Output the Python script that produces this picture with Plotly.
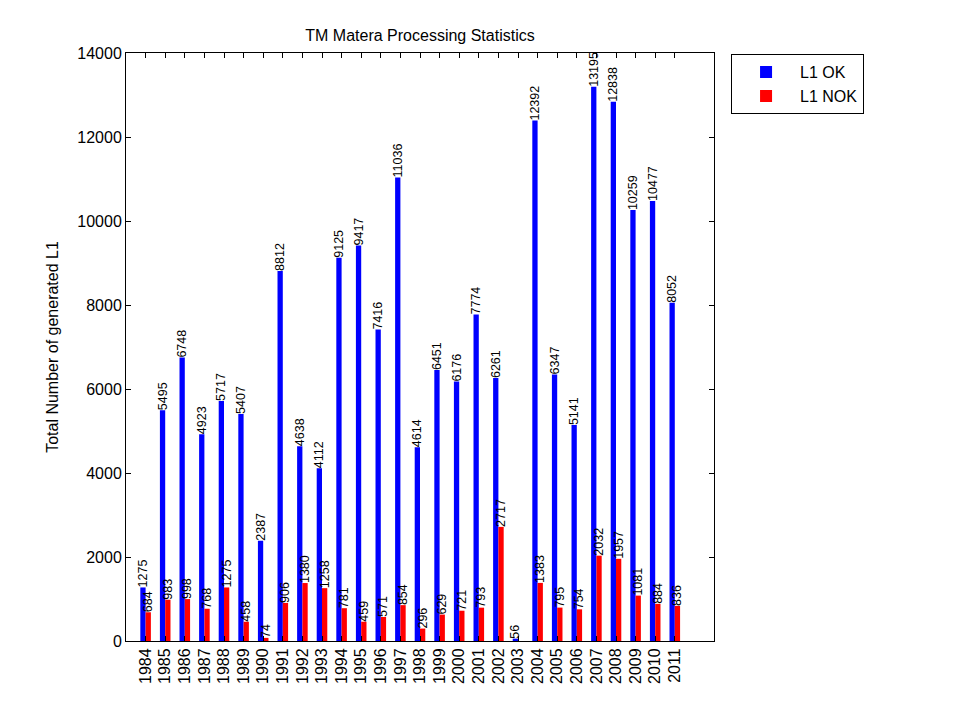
import plotly.graph_objects as go

years = list(range(1984, 2012))
l1_ok = [1275, 5495, 6748, 4923, 5717, 5407, 2387, 8812, 4638, 4112, 9125, 9417, 7416, 11036,
         4614, 6451, 6176, 7774, 6261, 56, 12392, 6347, 5141, 13195, 12838, 10259, 10477, 8052]
l1_nok = [684, 983, 998, 768, 1275, 458, 74, 906, 1380, 1258, 781, 459, 571, 854,
          296, 629, 721, 793, 2717, 0, 1383, 795, 754, 2032, 1957, 1081, 884, 836]

font_family = "Liberation Sans, Arial, Helvetica, sans-serif"

def labels(vals):
    return [str(v) if v else "" for v in vals]

# page body has an 8px default margin; compensate in the figure margins
L, T, PW, PH = 118, 45, 588, 588
W, H = 961, 720

fig = go.Figure()
fig.add_trace(go.Bar(x=years, y=l1_ok, name="L1 OK", marker=dict(color="#0000ff", line=dict(width=0)),
                     text=labels(l1_ok), textposition="outside", textangle=-90, constraintext="none",
                     cliponaxis=False, textfont=dict(size=12.5, color="black", family=font_family)))
fig.add_trace(go.Bar(x=years, y=l1_nok, name="L1 NOK", marker=dict(color="#ff0000", line=dict(width=0)),
                     text=labels(l1_nok), textposition="outside", textangle=-90, constraintext="none",
                     cliponaxis=False, textfont=dict(size=12.5, color="black", family=font_family)))

fig.update_layout(
    width=W, height=H,
    margin=dict(l=L, r=W - L - PW, t=T, b=H - T - PH, pad=0, autoexpand=False),
    paper_bgcolor="white", plot_bgcolor="white",
    font=dict(family=font_family, size=16, color="black"),
    barmode="group", bargap=0.46, bargroupgap=0,
    title=dict(text="TM Matera Processing Statistics", x=(L + PW / 2) / W, xanchor="center",
               y=1 - 27 / H, yanchor="middle", font=dict(size=16)),
    showlegend=True,
    legend=dict(x=1.029, y=0.998, xanchor="left", yanchor="top", bordercolor="black", borderwidth=1,
                bgcolor="white", font=dict(size=16), tracegroupgap=0, itemwidth=58),
)
fig.update_xaxes(range=[1983, 2013], tickvals=years, ticktext=[str(y) for y in years], tickangle=-90,
                 showline=True, linecolor="black", linewidth=1, mirror="ticks", ticks="inside",
                 ticklen=5, tickcolor="black", showgrid=False, zeroline=False, tickfont=dict(size=16),
                 automargin=False)
fig.update_yaxes(range=[0, 14000], dtick=2000, tickformat="d", showline=True, linecolor="black", linewidth=1,
                 mirror="ticks", ticks="inside", ticklen=5, tickcolor="black", showgrid=False,
                 zeroline=False, tickfont=dict(size=16), automargin=False,
                 title=dict(text="Total Number of generated L1", font=dict(size=16), standoff=14))

fig.write_html("out.html")
